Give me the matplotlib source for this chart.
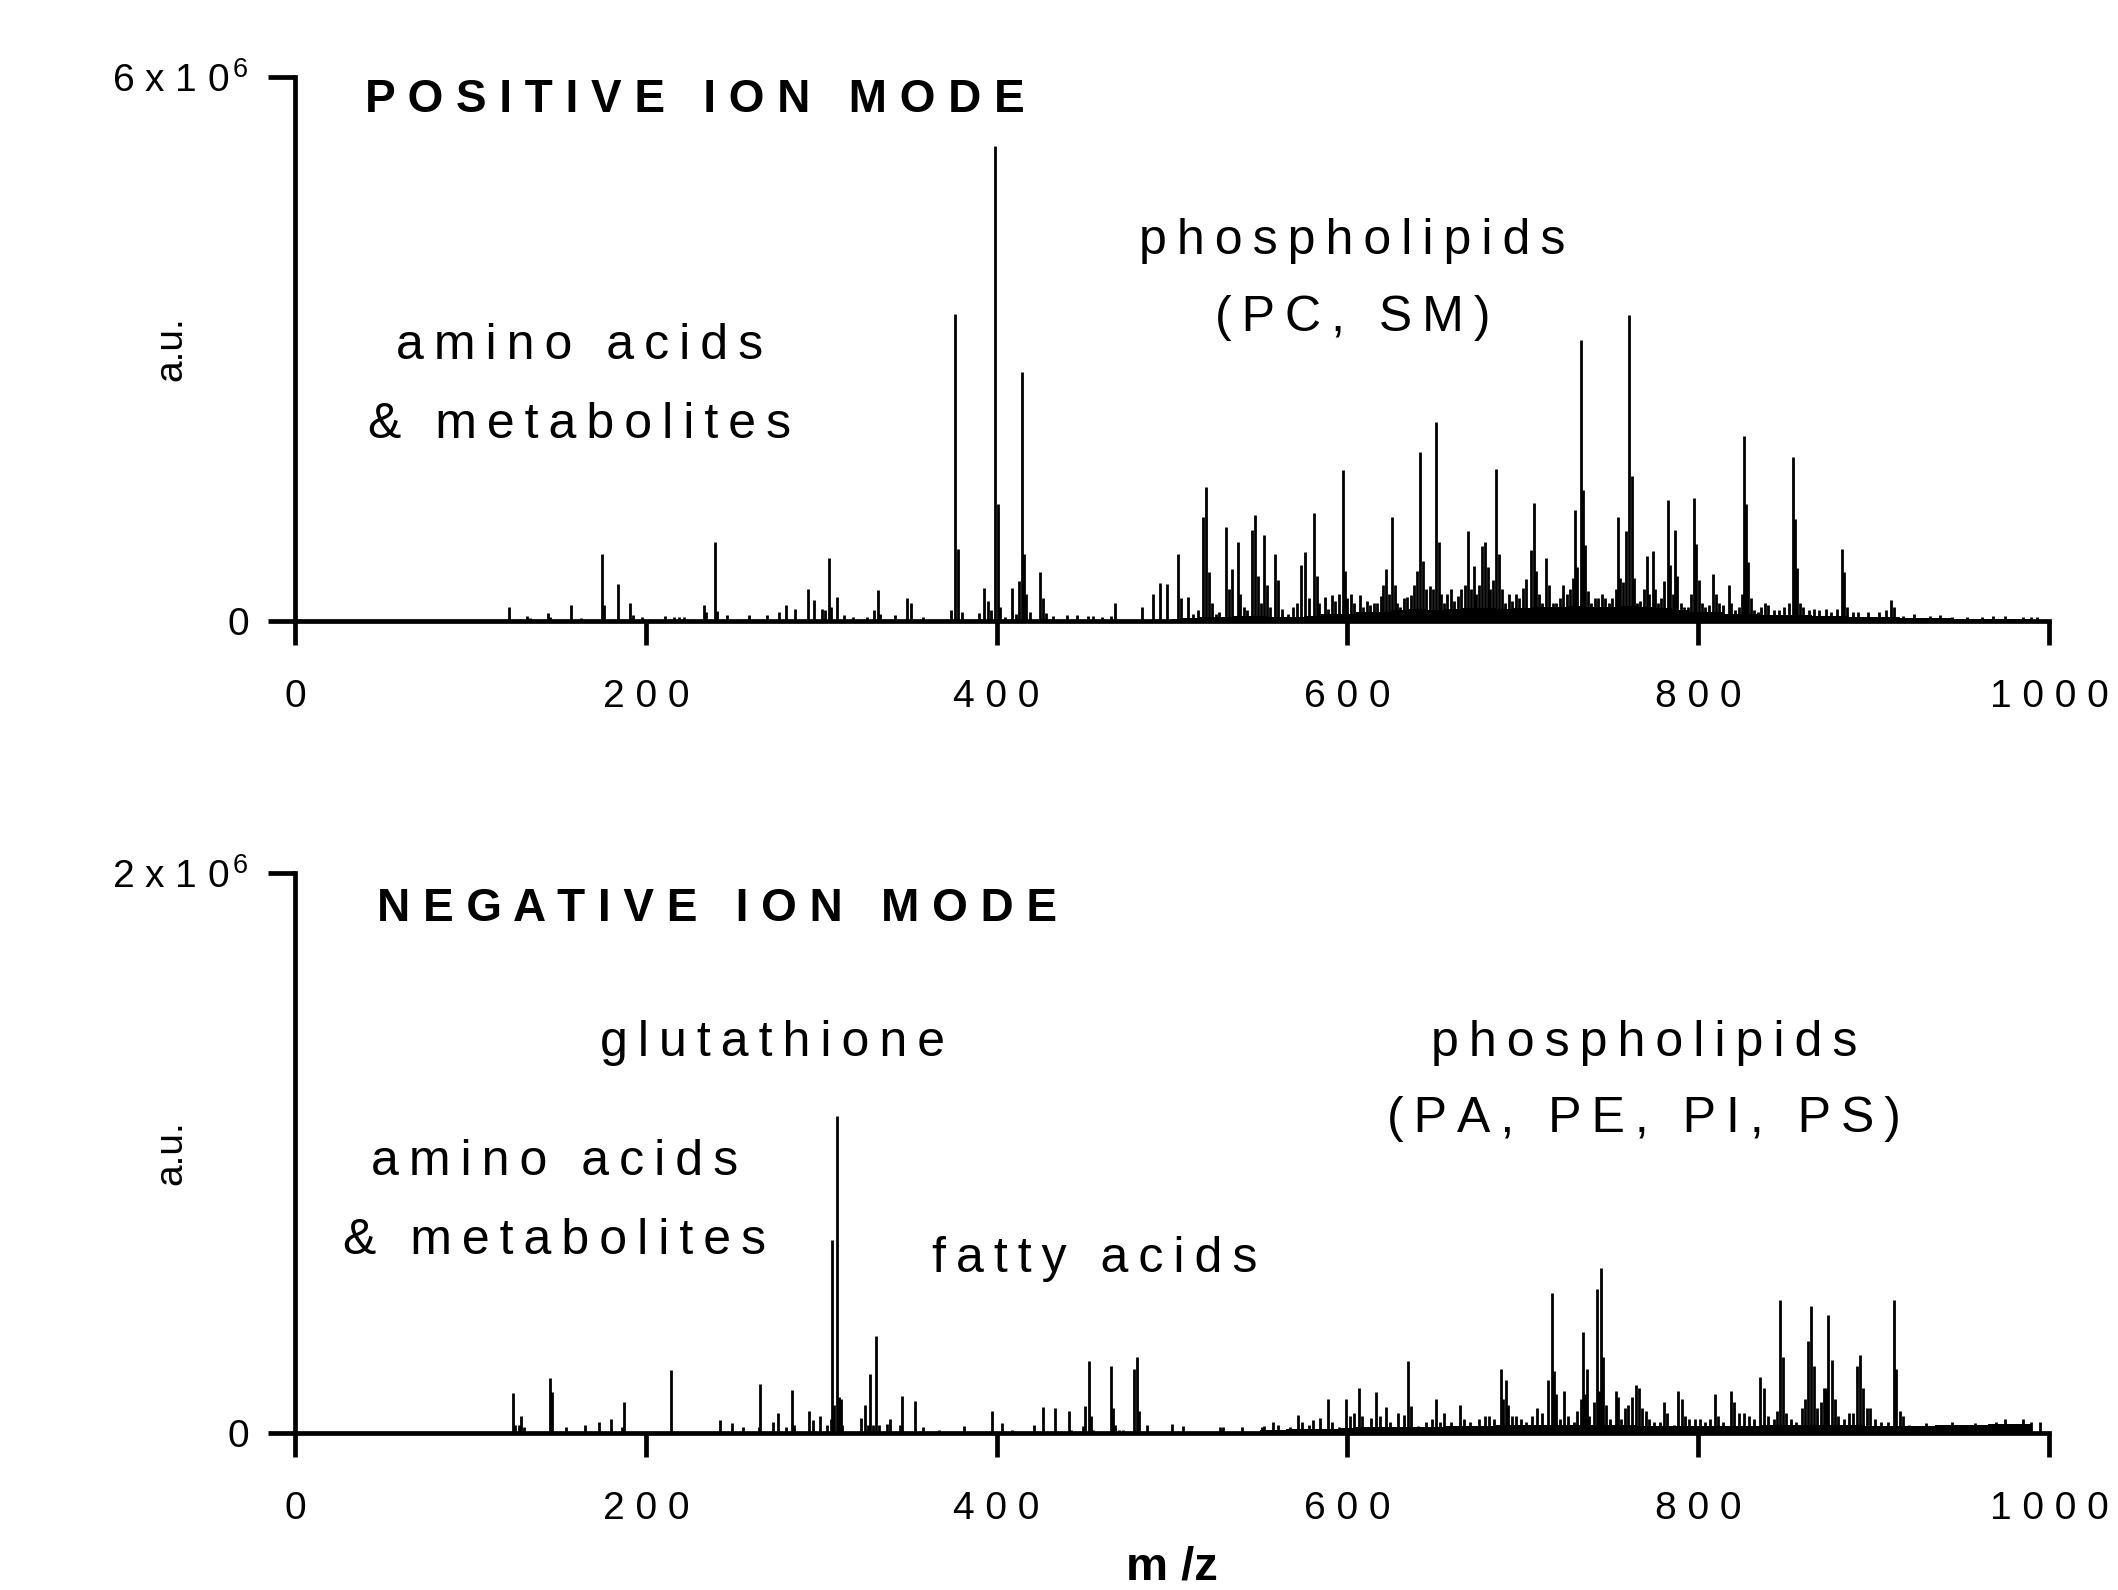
"""Positive / negative ion mode mass spectra (two stacked stick plots)."""

import matplotlib
matplotlib.use("Agg")
import matplotlib.pyplot as plt

plt.rcParams["font.family"] = ["Liberation Sans", "DejaVu Sans"]
plt.rcParams["mathtext.fontset"] = "custom"
plt.rcParams["mathtext.rm"] = "Liberation Sans"
plt.rcParams["mathtext.it"] = "Liberation Sans"

# ---- data (intensities in units of 1e6 a.u.) ----
X_TICKS = [0, 200, 400, 600, 800, 1000]

POS_MZ = [
    122.0, 132.0, 134.0, 144.0, 145.5, 157.4, 163.0, 175.2, 176.3, 184.1,
    191.2, 192.5, 198.0, 211.0, 216.0, 219.0, 222.0, 233.3, 234.5, 239.3,
    240.5, 246.0, 259.0, 269.0, 276.0, 279.8, 285.0, 292.2, 296.1, 300.5,
    302.0, 304.5, 305.5, 309.0, 313.0, 318.0, 326.0, 330.0, 332.4, 333.5,
    342.0, 349.0, 351.0, 358.0, 374.0, 376.5, 378.0, 380.0, 390.0, 393.0,
    395.0, 397.0, 399.3, 400.6, 402.0, 405.0, 409.0, 411.0, 413.0, 414.6,
    415.8, 417.0, 419.0, 425.0, 426.5, 428.0, 432.0, 440.0, 446.0, 452.0,
    455.0, 460.0, 465.0, 467.5, 483.0, 489.0, 493.0, 497.0, 503.5, 505.0,
    509.0, 512.0, 515.0, 517.5, 519.5, 521.0, 523.0, 525.0, 527.0, 531.0,
    532.5, 534.0, 537.5, 539.0, 541.0, 543.0, 545.5, 547.5, 549.0, 551.0,
    552.5, 554.0, 556.0, 559.0, 560.5, 563.0, 566.0, 569.0, 571.0, 573.5,
    576.0, 578.0, 581.0, 582.5, 584.0, 587.0, 589.0, 591.0, 593.0, 595.0,
    597.5, 598.5, 600.0, 602.0, 604.0, 607.0, 609.0, 611.0, 613.0, 615.0,
    617.0, 619.0, 620.5, 622.0, 624.0, 625.5, 627.0, 628.5, 630.0, 632.0,
    634.0, 636.0, 638.0, 639.5, 641.5, 643.0, 645.0, 647.0, 649.0, 650.4,
    652.0, 653.5, 655.0, 657.0, 659.0, 661.0, 663.0, 665.0, 667.0, 669.0,
    670.5, 672.0, 673.5, 675.0, 677.0, 678.2, 680.0, 681.5, 683.0, 685.0,
    686.5, 688.0, 690.0, 692.0, 694.0, 696.0, 698.0, 700.0, 702.0, 704.5,
    706.4, 707.5, 709.0, 711.0, 713.5, 715.0, 717.0, 719.0, 721.0, 723.0,
    725.0, 727.0, 728.8, 729.8, 731.0, 733.2, 734.3, 735.5, 737.0, 739.0,
    741.0, 743.0, 745.0, 747.0, 749.0, 751.0, 753.0, 754.4, 755.5, 757.0,
    758.6, 760.8, 762.0, 763.2, 765.0, 767.0, 769.0, 770.6, 772.0, 774.0,
    775.5, 777.0, 779.0, 780.6, 782.8, 784.0, 785.5, 786.8, 788.2, 790.0,
    792.0, 794.0, 796.0, 797.8, 799.0, 800.5, 802.0, 804.0, 806.0, 808.7,
    810.0, 812.0, 814.0, 817.4, 819.0, 821.0, 823.0, 825.0, 826.2, 827.2,
    828.3, 830.0, 832.0, 834.0, 836.0, 838.0, 840.0, 843.0, 846.0, 849.0,
    852.0, 854.0, 855.0, 856.2, 858.0, 860.0, 863.0, 866.0, 869.0, 873.0,
    876.0, 879.0, 882.2, 883.3, 885.0, 888.0, 891.0, 897.0, 903.0, 907.0,
    910.0, 911.5, 917.0, 923.0, 932.0, 938.0, 945.0, 953.0, 962.0, 968.0,
    975.0, 985.0, 990.0, 993.0,
]
POS_INT = [
    0.15, 0.06, 0.03, 0.085, 0.04, 0.18, 0.03, 0.74, 0.18, 0.41,
    0.20, 0.07, 0.05, 0.06, 0.05, 0.05, 0.05, 0.18, 0.10, 0.87,
    0.11, 0.07, 0.07, 0.07, 0.10, 0.18, 0.13, 0.35, 0.23, 0.13,
    0.12, 0.69, 0.16, 0.27, 0.07, 0.05, 0.05, 0.12, 0.34, 0.08,
    0.07, 0.25, 0.20, 0.04, 0.12, 3.39, 0.80, 0.10, 0.09, 0.37,
    0.22, 0.12, 5.24, 1.29, 0.15, 0.05, 0.37, 0.08, 0.44, 2.75,
    0.74, 0.30, 0.10, 0.54, 0.25, 0.09, 0.06, 0.07, 0.07, 0.06,
    0.06, 0.05, 0.06, 0.20, 0.15, 0.30, 0.42, 0.41, 0.74, 0.25,
    0.26, 0.08, 0.12, 1.15, 1.48, 0.54, 0.20, 0.08, 0.10, 1.04,
    0.35, 0.57, 0.87, 0.30, 0.15, 0.12, 1.00, 1.17, 0.50, 0.20,
    0.95, 0.40, 0.15, 0.74, 0.45, 0.13, 0.08, 0.15, 0.20, 0.62,
    0.76, 0.25, 1.19, 0.50, 0.20, 0.26, 0.13, 0.29, 0.22, 0.30,
    1.67, 0.55, 0.25, 0.30, 0.20, 0.29, 0.15, 0.22, 0.18, 0.20,
    0.20, 0.28, 0.40, 0.57, 0.30, 1.15, 0.40, 0.20, 0.15, 0.25,
    0.27, 0.29, 0.40, 0.55, 1.86, 0.66, 0.35, 0.39, 0.35, 2.20,
    0.87, 0.30, 0.20, 0.30, 0.35, 0.22, 0.28, 0.35, 0.40, 0.99,
    0.35, 0.61, 0.30, 0.40, 0.83, 0.87, 0.60, 0.35, 0.45, 1.68,
    0.74, 0.35, 0.20, 0.30, 0.22, 0.30, 0.25, 0.37, 0.46, 0.78,
    1.30, 0.55, 0.30, 0.20, 0.69, 0.40, 0.20, 0.20, 0.25, 0.40,
    0.30, 0.35, 0.48, 1.23, 0.60, 3.10, 1.45, 0.84, 0.33, 0.20,
    0.25, 0.25, 0.30, 0.25, 0.20, 0.25, 0.35, 1.15, 0.48, 0.43,
    0.99, 3.38, 1.60, 0.48, 0.20, 0.22, 0.35, 0.72, 0.30, 0.77,
    0.35, 0.20, 0.25, 0.44, 1.34, 0.62, 0.30, 1.00, 0.50, 0.20,
    0.15, 0.15, 0.30, 1.36, 0.85, 0.45, 0.20, 0.15, 0.18, 0.52,
    0.30, 0.20, 0.18, 0.40, 0.20, 0.12, 0.15, 0.30, 2.04, 1.29,
    0.65, 0.25, 0.12, 0.10, 0.15, 0.20, 0.18, 0.12, 0.12, 0.15,
    0.20, 1.81, 1.12, 0.59, 0.20, 0.15, 0.12, 0.13, 0.12, 0.13,
    0.10, 0.13, 0.80, 0.54, 0.15, 0.10, 0.10, 0.10, 0.10, 0.12,
    0.23, 0.15, 0.06, 0.08, 0.06, 0.07, 0.05, 0.05, 0.05, 0.06,
    0.06, 0.05, 0.05, 0.04,
]

# background "grass" level, one value per 10 m/z bin
POS_NOISE_MZ = [500, 510, 520, 530, 540, 550, 560, 570, 580, 590,
                600, 610, 620, 630, 640, 650, 660, 670, 680, 690,
                700, 710, 720, 730, 740, 750, 760, 770, 780, 790,
                800, 810, 820, 830, 840, 850, 860, 870, 880, 890,
                900, 910, 920, 930, 940, 950, 960, 970, 980, 990]
POS_NOISE = [0.02, 0.03, 0.04, 0.04, 0.06, 0.06, 0.05, 0.05, 0.06, 0.08,
             0.08, 0.10, 0.10, 0.12, 0.13, 0.12, 0.13, 0.14, 0.14, 0.13,
             0.14, 0.15, 0.16, 0.17, 0.15, 0.16, 0.17, 0.15, 0.14, 0.12,
             0.10, 0.10, 0.08, 0.08, 0.07, 0.07, 0.07, 0.06, 0.06, 0.05,
             0.04, 0.04, 0.03, 0.03, 0.03, 0.02, 0.02, 0.02, 0.02, 0.02]

NEG_MZ = [
    124.3, 125.5, 127.5, 128.6, 130.5, 145.4, 146.7, 154.3, 165.3, 173.2,
    180.4, 186.5, 187.3, 214.4, 242.3, 249.2, 255.5, 264.5, 265.3, 272.7,
    275.3, 280.0, 283.1, 284.5, 293.0, 295.6, 299.3, 303.5, 305.5, 306.3,
    307.5, 308.8, 310.0, 311.0, 312.0, 322.5, 324.8, 326.5, 327.9, 329.5,
    331.5, 333.0, 337.3, 339.2, 345.0, 346.3, 353.4, 358.0, 367.0, 381.5,
    397.4, 403.0, 409.0, 421.3, 426.2, 433.2, 441.0, 442.5, 449.5, 450.5,
    452.6, 453.8, 455.0, 465.0, 466.2, 467.5, 470.0, 472.0, 478.6, 480.3,
    481.2, 485.5, 500.0, 506.5, 527.3, 529.0, 539.7, 551.5, 552.4, 557.4,
    560.5, 567.0, 572.0, 574.0, 578.0, 580.6, 584.6, 588.7, 591.0, 595.0,
    599.2, 601.5, 604.0, 606.6, 608.5, 613.4, 616.3, 618.5, 622.2, 624.5,
    629.0, 632.2, 634.8, 636.0, 640.0, 645.0, 648.5, 650.6, 653.0, 655.2,
    659.0, 664.0, 666.5, 670.0, 675.0, 678.5, 681.0, 683.5, 687.6, 688.6,
    690.2, 691.8, 693.6, 696.0, 699.0, 702.0, 705.0, 708.0, 711.0, 714.4,
    716.4, 717.6, 719.0, 721.0, 723.5, 726.0, 729.0, 731.0, 733.0, 734.3,
    735.5, 736.7, 738.0, 740.4, 742.4, 743.6, 744.8, 745.8, 747.5, 750.0,
    752.9, 754.5, 756.0, 758.0, 760.0, 762.5, 764.3, 766.2, 768.0, 770.0,
    772.0, 775.0, 778.0, 780.5, 782.5, 786.0, 788.3, 790.5, 792.5, 795.0,
    798.0, 801.0, 804.0, 807.0, 809.5, 811.5, 814.0, 818.5, 820.5, 823.0,
    826.0, 829.0, 832.0, 835.4, 837.5, 840.0, 843.0, 845.0, 846.6, 848.3,
    850.0, 853.0, 856.0, 859.0, 861.0, 862.5, 864.5, 866.0, 868.0, 870.0,
    871.5, 872.7, 874.3, 876.2, 878.0, 880.0, 883.0, 886.0, 888.5, 890.4,
    892.4, 894.0, 896.0, 898.0, 901.0, 904.0, 908.0, 911.7, 912.9, 915.0,
    917.0, 920.0, 930.0, 945.0, 958.0, 970.0, 975.0, 985.0, 990.0, 995.0,
]
NEG_INT = [
    0.143, 0.03, 0.03, 0.06, 0.02, 0.196, 0.146, 0.02, 0.03, 0.04,
    0.05, 0.02, 0.11, 0.226, 0.045, 0.036, 0.02, 0.02, 0.176, 0.04,
    0.07, 0.02, 0.155, 0.03, 0.08, 0.048, 0.06, 0.03, 0.05, 0.69,
    0.10, 1.13, 0.13, 0.12, 0.03, 0.054, 0.10, 0.03, 0.21, 0.03,
    0.345, 0.03, 0.033, 0.05, 0.03, 0.133, 0.113, 0.02, 0.01, 0.024,
    0.08, 0.036, 0.01, 0.03, 0.093, 0.09, 0.077, 0.01, 0.025, 0.095,
    0.256, 0.062, 0.01, 0.238, 0.09, 0.03, 0.01, 0.01, 0.228, 0.273,
    0.08, 0.03, 0.033, 0.027, 0.02, 0.02, 0.02, 0.02, 0.024, 0.04,
    0.03, 0.02, 0.065, 0.04, 0.03, 0.048, 0.053, 0.122, 0.04, 0.02,
    0.121, 0.06, 0.07, 0.16, 0.06, 0.053, 0.145, 0.06, 0.093, 0.04,
    0.07, 0.065, 0.256, 0.095, 0.025, 0.04, 0.05, 0.122, 0.04, 0.07,
    0.04, 0.10, 0.05, 0.04, 0.05, 0.06, 0.06, 0.05, 0.23, 0.12,
    0.19, 0.10, 0.06, 0.06, 0.05, 0.04, 0.06, 0.09, 0.07, 0.19,
    0.50, 0.22, 0.14, 0.05, 0.15, 0.06, 0.04, 0.08, 0.12, 0.36,
    0.14, 0.23, 0.06, 0.11, 0.515, 0.15, 0.59, 0.27, 0.10, 0.05,
    0.15, 0.13, 0.05, 0.09, 0.10, 0.13, 0.17, 0.16, 0.09, 0.08,
    0.05, 0.04, 0.04, 0.11, 0.07, 0.03, 0.15, 0.12, 0.06, 0.05,
    0.05, 0.05, 0.04, 0.05, 0.14, 0.06, 0.04, 0.15, 0.11, 0.07,
    0.07, 0.06, 0.05, 0.20, 0.16, 0.06, 0.05, 0.08, 0.475, 0.27,
    0.07, 0.05, 0.04, 0.09, 0.12, 0.33, 0.455, 0.24, 0.09, 0.11,
    0.16, 0.16, 0.42, 0.26, 0.12, 0.06, 0.05, 0.07, 0.07, 0.24,
    0.28, 0.16, 0.09, 0.09, 0.05, 0.04, 0.04, 0.475, 0.23, 0.08,
    0.06, 0.03, 0.035, 0.04, 0.035, 0.04, 0.05, 0.05, 0.04, 0.04,
]

NEG_NOISE_MZ = [550, 560, 570, 580, 590, 600, 610, 620, 630, 640,
                650, 660, 670, 680, 690, 700, 710, 720, 730, 740,
                750, 760, 770, 780, 790, 800, 810, 820, 830, 840,
                850, 860, 870, 880, 890, 900, 910, 920, 930, 940,
                950, 960, 970, 980, 990]
NEG_NOISE = [0.010, 0.012, 0.014, 0.015, 0.016, 0.018, 0.020, 0.020, 0.022, 0.022,
             0.022, 0.024, 0.024, 0.026, 0.028, 0.028, 0.030, 0.030, 0.030, 0.030,
             0.028, 0.028, 0.026, 0.026, 0.026, 0.025, 0.025, 0.025, 0.026, 0.028,
             0.028, 0.028, 0.028, 0.028, 0.028, 0.026, 0.026, 0.026, 0.027, 0.028,
             0.030, 0.030, 0.032, 0.032, 0.032]

SP = "\u2009"  # thin space used as letter spacing


def spaced(text, gap=SP):
    return gap.join(text)


def draw_panel(ax, mz, inten, noise_mz, noise, ymax, ytop_label, title, title_xy, notes):
    ax.fill_between(noise_mz, 0, noise, step="mid", color="black", lw=0)
    ax.vlines(mz, 0, inten, color="black", lw=1.0)
    ax.set_xlim(0, 1000)
    ax.set_ylim(0, ymax)

    for side in ("top", "right"):
        ax.spines[side].set_visible(False)
    for side in ("left", "bottom"):
        ax.spines[side].set_linewidth(1.7)

    ax.set_xticks(X_TICKS)
    ax.set_xticklabels([spaced(str(t), " ") for t in X_TICKS], fontsize=14)
    ax.set_yticks([0, ymax])
    ax.set_yticklabels(["0", ytop_label], fontsize=14)
    ax.tick_params(axis="x", direction="out", length=8.7, width=1.7, pad=12)
    ax.tick_params(axis="y", direction="out", length=9.7, width=1.7, pad=7)

    ax.set_ylabel("a.u.", fontsize=14)
    ax.yaxis.set_label_coords(-0.060, 0.5)

    ax.text(title_xy[0], title_xy[1], spaced(title, " "), fontsize=16.5,
            fontweight="bold", ha="left", va="baseline")
    for x, y, txt in notes:
        ax.text(x, y, spaced(txt), fontsize=18, ha="center", va="baseline")


fig = plt.figure(figsize=(10.59, 7.95), dpi=200)
ax_pos = fig.add_axes([0.1393, 0.6094, 0.8281, 0.3422])
ax_neg = fig.add_axes([0.1393, 0.0987, 0.8281, 0.3525])

draw_panel(
    ax_pos, POS_MZ, POS_INT, POS_NOISE_MZ, POS_NOISE, 6,
    r"6 x 1 0$^{\,6}$", "POSITIVE ION MODE", (40, 5.61),
    [(162, 2.89, "amino acids"), (162, 2.02, "& metabolites"),
     (603, 4.05, "phospholipids"), (603, 3.20, "(PC, SM)")],
)
draw_panel(
    ax_neg, NEG_MZ, NEG_INT, NEG_NOISE_MZ, NEG_NOISE, 2,
    r"2 x 1 0$^{\,6}$", "NEGATIVE ION MODE", (47, 1.827),
    [(272, 1.345, "glutathione"), (148, 0.92, "amino acids"),
     (148, 0.64, "& metabolites"), (456, 0.573, "fatty acids"),
     (769, 1.345, "phospholipids"), (769, 1.075, "(PA, PE, PI, PS)")],
)

# axis title sits right at the lower edge of the figure
ax_neg.set_xlabel("m /z", fontsize=17, fontweight="bold")
ax_neg.xaxis.set_label_coords(0.5, -0.279)
ax_neg.xaxis.label.set_va("bottom")

fig.savefig("out.png", dpi=200)
plt.close(fig)
